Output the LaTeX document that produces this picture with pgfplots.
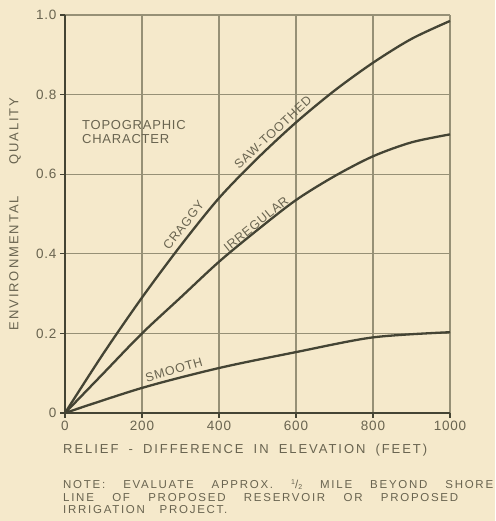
\documentclass[border=0pt]{standalone}
\usepackage{pgfplots}
\pgfplotsset{compat=1.18}
\usepackage{fontspec}
\newfontfamily\lettering[LetterSpace=15]{Liberation Sans}
\newfontfamily\letteringB[LetterSpace=6]{Liberation Sans}
\definecolor{bgc}{RGB}{245,233,203}
\definecolor{ink}{RGB}{68,68,52}
\definecolor{gridc}{RGB}{150,144,118}
\definecolor{txt}{RGB}{105,100,80}
\begin{document}
\begin{tikzpicture}[x=1pt,y=1pt]
\fill[bgc] (0,0) rectangle (495,521);
\useasboundingbox (0,0) rectangle (495,521);
\begin{axis}[
  scale only axis, width=385pt, height=398pt,
  at={(65pt,108pt)}, anchor=south west,
  xmin=0, xmax=1000, ymin=0, ymax=1,
  axis x line=bottom, axis y line=left,
  axis line style={ink, line width=1.8pt, -},
  xtick={0,200,400,600,800,1000},
  ytick={0,0.2,0.4,0.6,0.8,1.0},
  xticklabels={0,200,400,600,800,1000},
  yticklabels={0,0.2,0.4,0.6,0.8,1.0},
  tick label style={font=\letteringB\fontsize{13.5}{15}\selectfont, text=txt},
  tick align=outside, major tick length=5pt,
  tick style={ink, line width=1.2pt},
  grid=major, major grid style={gridc, line width=1.1pt},
  clip=false,
]
\addplot[ink, line width=2.3pt, smooth] coordinates {
(0,0) (100,0.15) (200,0.29) (300,0.42) (400,0.54) (500,0.64) (600,0.73) (700,0.81) (800,0.88) (900,0.94) (1000,0.985)};
\addplot[ink, line width=2.3pt, smooth] coordinates {
(0,0) (100,0.10) (200,0.20) (300,0.29) (400,0.38) (500,0.46) (600,0.535) (700,0.595) (800,0.645) (900,0.68) (1000,0.70)};
\addplot[ink, line width=2.3pt, smooth] coordinates {
(0,0) (200,0.063) (400,0.113) (600,0.153) (800,0.19) (1000,0.203)};
\node[text=txt, font=\letteringB\fontsize{12.5}{14}\selectfont, rotate=52] at (axis cs:308,0.472) {CRAGGY};
\node[text=txt, font=\letteringB\fontsize{12.5}{14}\selectfont, rotate=43] at (axis cs:540,0.705) {SAW-TOOTHED};
\node[text=txt, font=\letteringB\fontsize{12.5}{14}\selectfont, rotate=39] at (axis cs:496,0.475) {IRREGULAR};
\node[text=txt, font=\letteringB\fontsize{12.5}{14}\selectfont, rotate=16] at (axis cs:283,0.108) {SMOOTH};
\node[text=txt, font=\letteringB\fontsize{13}{14}\selectfont, anchor=north west, align=left, inner sep=0pt] at (axis cs:44,0.735) {TOPOGRAPHIC\\CHARACTER};
\end{axis}
\node[text=txt, font=\lettering\fontsize{13}{14}\selectfont, rotate=90] at (15,307) {\makebox[233pt][s]{ENVIRONMENTAL QUALITY}};
\node[text=txt, font=\lettering\fontsize{13}{14}\selectfont, anchor=west, inner sep=0pt] at (63,71) {\makebox[364pt][s]{RELIEF - DIFFERENCE IN ELEVATION (FEET)}};
\node[text=txt, font=\lettering\fontsize{11.5}{12}\selectfont, anchor=west, inner sep=0pt] at (63,36) {\makebox[430pt][s]{NOTE: EVALUATE APPROX. \raisebox{3.5pt}{\fontsize{7}{8}\selectfont 1}/\raisebox{-1.5pt}{\fontsize{7}{8}\selectfont 2} MILE BEYOND SHORE}};
\node[text=txt, font=\lettering\fontsize{11.5}{12}\selectfont, anchor=west, inner sep=0pt] at (63,23) {\makebox[395pt][s]{LINE OF PROPOSED RESERVOIR OR PROPOSED}};
\node[text=txt, font=\lettering\fontsize{11.5}{12}\selectfont, anchor=west, inner sep=0pt] at (63,11) {IRRIGATION\ \ \ PROJECT.};
\end{tikzpicture}
\end{document}
